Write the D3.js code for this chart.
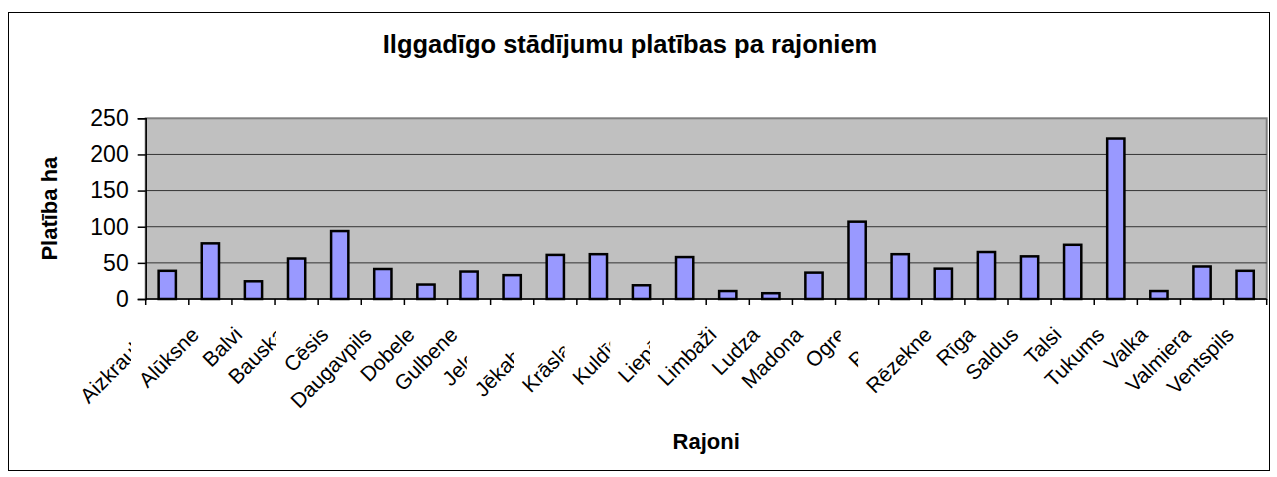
<!DOCTYPE html>
<html>
<head>
<meta charset="utf-8">
<script src="https://cdn.jsdelivr.net/npm/d3@7"></script>
<style>
  body { margin: 0; background: #ffffff; }
  text { font-family: Arial, "Liberation Sans", sans-serif; fill: #000; }
</style>
</head>
<body>
<div id="chart"></div>
<script>
// Chart data.
const districts = ["Aizkraukle", "Alūksne", "Balvi", "Bauska", "Cēsis", "Daugavpils",
  "Dobele", "Gulbene", "Jelgava", "Jēkabpils", "Krāslava", "Kuldīga", "Liepāja",
  "Limbaži", "Ludza", "Madona", "Ogre", "Preiļi", "Rēzekne", "Rīga", "Saldus",
  "Talsi", "Tukums", "Valka", "Valmiera", "Ventspils"];
const areaHa = [39, 77, 24.5, 56, 94, 41.5, 20, 38, 33, 61, 62, 19, 58,
  11, 8, 36.5, 107, 62, 42, 65, 59, 75, 222, 11, 45, 39];
const yTicks = [0, 50, 100, 150, 200, 250];
// Category labels that get cut off by the next label in the picture.
const clippedLabels = ["Aizkraukle", "Bauska", "Jelgava", "Jēkabpils", "Krāslava",
  "Kuldīga", "Liepāja", "Ogre", "Preiļi"];
const chartTitle = "Ilggadīgo stādījumu platības pa rajoniem";
const xTitle = "Rajoni";
const yTitle = "Platība ha";

// Window-level layout.
const winW = 1277;
const winH = 477;
const plot = { left: 145.7, right: 1266.7, top: 118.3, bottom: 299 };

const svg = d3.select("#chart").append("svg")
  .attr("width", winW)
  .attr("height", winH);

// Outer chart border.
svg.append("rect")
  .attr("x", 8.5).attr("y", 12.5)
  .attr("width", 1261).attr("height", 458)
  .attr("fill", "none")
  .attr("stroke", "#000");

const x = d3.scaleBand()
  .domain(districts)
  .range([plot.left, plot.right])
  .paddingInner(0.6)
  .paddingOuter(0.3);

const y = d3.scaleLinear()
  .domain([0, 250])
  .range([plot.bottom, plot.top]);

// Plot area background.
svg.append("rect")
  .attr("x", plot.left).attr("y", plot.top)
  .attr("width", plot.right - plot.left)
  .attr("height", plot.bottom - plot.top)
  .attr("fill", "#c0c0c0")
  .attr("stroke", "#808080")
  .attr("stroke-width", 2);

// Gridlines.
svg.append("g")
  .selectAll("line")
  .data(yTicks.filter(d => d > 0 && d < 250))
  .enter().append("line")
  .attr("x1", plot.left).attr("x2", plot.right)
  .attr("y1", d => y(d)).attr("y2", d => y(d))
  .attr("stroke", "#333")
  .attr("stroke-width", 1);

// Bars.
svg.append("g")
  .selectAll("rect")
  .data(districts)
  .enter().append("rect")
  .attr("x", d => x(d))
  .attr("width", x.bandwidth())
  .attr("y", (d, i) => y(areaHa[i]))
  .attr("height", (d, i) => y(0) - y(areaHa[i]))
  .attr("fill", "#9999ff")
  .attr("stroke", "#000")
  .attr("stroke-width", 2.5);

// Y axis.
const yAxis = svg.append("g")
  .attr("transform", "translate(" + plot.left + ",0)")
  .call(d3.axisLeft(y).tickValues(yTicks).tickSize(8).tickPadding(9));
yAxis.select(".domain").attr("stroke", "#000").attr("stroke-width", 1.5);
yAxis.selectAll(".tick line").attr("stroke", "#000").attr("stroke-width", 1.5);
yAxis.selectAll(".tick text")
  .style("font-size", "23px")
  .attr("fill", "#000");

// X axis line and tick marks at category boundaries.
const step = x.step();
svg.append("line")
  .attr("x1", plot.left).attr("x2", plot.right)
  .attr("y1", plot.bottom).attr("y2", plot.bottom)
  .attr("stroke", "#000").attr("stroke-width", 1.5);
svg.append("g")
  .selectAll("line")
  .data(d3.range(districts.length + 1))
  .enter().append("line")
  .attr("x1", i => plot.left + i * step).attr("x2", i => plot.left + i * step)
  .attr("y1", plot.bottom).attr("y2", plot.bottom + 6)
  .attr("stroke", "#000").attr("stroke-width", 1.5);

// Category labels, rotated 45 degrees.
const labelGroups = svg.append("g")
  .selectAll("g")
  .data(districts)
  .enter().append("g");
const labels = labelGroups.append("text")
  .attr("transform", d => "translate(" + (x(d) + x.bandwidth() / 2 - 10) + ",336) rotate(-45)")
  .attr("text-anchor", "end")
  .style("font-size", "21px")
  .text(d => d);

// Clip the labels that are covered by the following one.
const labelNodes = labels.nodes();
const defs = svg.append("defs");
labelGroups.each(function(d, i) {
  if (clippedLabels.indexOf(d) < 0 || i + 1 >= districts.length) return;
  let next = districts[i + 1];
  let nextLen = labelNodes[i + 1].getComputedTextLength();
  let nextLeft = (x(next) + x.bandwidth() / 2 - 10) - 0.707 * nextLen - 0.707 * 15 - 6;
  let id = "clip" + i;
  defs.append("clipPath").attr("id", id)
    .append("rect")
    .attr("x", 0).attr("y", 0)
    .attr("width", nextLeft).attr("height", winH);
  d3.select(this).attr("clip-path", "url(#" + id + ")");
});

// Titles.
svg.append("text")
  .attr("x", 630).attr("y", 53)
  .attr("text-anchor", "middle")
  .style("font-size", "25.5px")
  .style("font-weight", "bold")
  .text(chartTitle);

svg.append("text")
  .attr("transform", "translate(57," + ((plot.top + plot.bottom) / 2) + ") rotate(-90)")
  .attr("text-anchor", "middle")
  .style("font-size", "22px")
  .style("font-weight", "bold")
  .text(yTitle);

svg.append("text")
  .attr("x", (plot.left + plot.right) / 2).attr("y", 449)
  .attr("text-anchor", "middle")
  .style("font-size", "22px")
  .style("font-weight", "bold")
  .text(xTitle);
</script>
</body>
</html>
